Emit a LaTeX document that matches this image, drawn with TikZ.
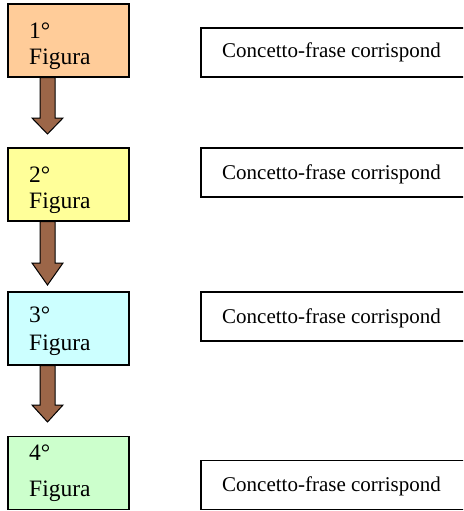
\documentclass[tikz,border=0pt]{standalone}
\usepackage{fontspec}
\setmainfont{Liberation Serif}
\definecolor{peach}{HTML}{FFCC99}
\definecolor{lyellow}{HTML}{FFFF99}
\definecolor{lcyan}{HTML}{CCFFFF}
\definecolor{lgreen}{HTML}{CCFFCC}
\definecolor{abrown}{HTML}{9C6648}
\tikzset{
  figbox/.style={draw=black, line width=1.5pt, rectangle, inner sep=0pt, minimum width=121pt, minimum height=73pt},
  txtbox/.style={draw=black, line width=1.3pt, rectangle, inner sep=0pt, minimum width=269pt, minimum height=49pt},
  lbl/.style={inner sep=0pt, anchor=base west, font=\fontsize{23.5}{26}\selectfont},
  sent/.style={inner sep=0pt, anchor=base west, font=\fontsize{21}{24}\selectfont},
  arr/.style={draw=black, line width=1pt, fill=abrown, line join=miter}
}
\newcommand\fatarr[3]{%
  \filldraw[arr] (40,#1) -- (40,#2) -- (32,#2) -- (47.5,#3) -- (63,#2) -- (55,#2) -- (55,#1) -- cycle;}
\begin{document}
\begin{tikzpicture}[x=1pt,y=-1pt]
\useasboundingbox (0,0) rectangle (463,511);
\clip (0,0) rectangle (463,511);
% figure boxes
\node[figbox, fill=peach]   (f1) at (68.5,40.5) {};
\node[figbox, fill=lyellow] (f2) at (68.5,184.5) {};
\node[figbox, fill=lcyan]   (f3) at (68.5,328.5) {};
\node[figbox, fill=lgreen]  (f4) at (68.5,473) {};
% arrows
\fatarr{77.5}{118}{134}
\fatarr{221.5}{263}{285}
\fatarr{365.5}{405}{422}
% labels
\node[lbl] (l1a) at (29,39) {1°};
\node[lbl] (l1b) at (29,65) {Figura};
\node[lbl] (l2a) at (29,182) {2°};
\node[lbl] (l2b) at (29,208) {Figura};
\node[lbl] (l3a) at (29,322) {3°};
\node[lbl] (l3b) at (29,350) {Figura};
\node[lbl] (l4a) at (29,460) {4°};
\node[lbl] (l4b) at (29,496) {Figura};
% sentence boxes
\node[txtbox] (s1) at (335.5,52.5) {};
\node[txtbox] (s2) at (335.5,172.5) {};
\node[txtbox] (s3) at (335.5,316.5) {};
\node[txtbox] (s4) at (335.5,485) {};
\node[sent] (c1) at (222,57.5) {Concetto-frase corrispond};
\node[sent] (c2) at (222,179) {Concetto-frase corrispond};
\node[sent] (c3) at (222,323) {Concetto-frase corrispond};
\node[sent] (c4) at (222,491) {Concetto-frase corrispond};
\end{tikzpicture}
\end{document}
